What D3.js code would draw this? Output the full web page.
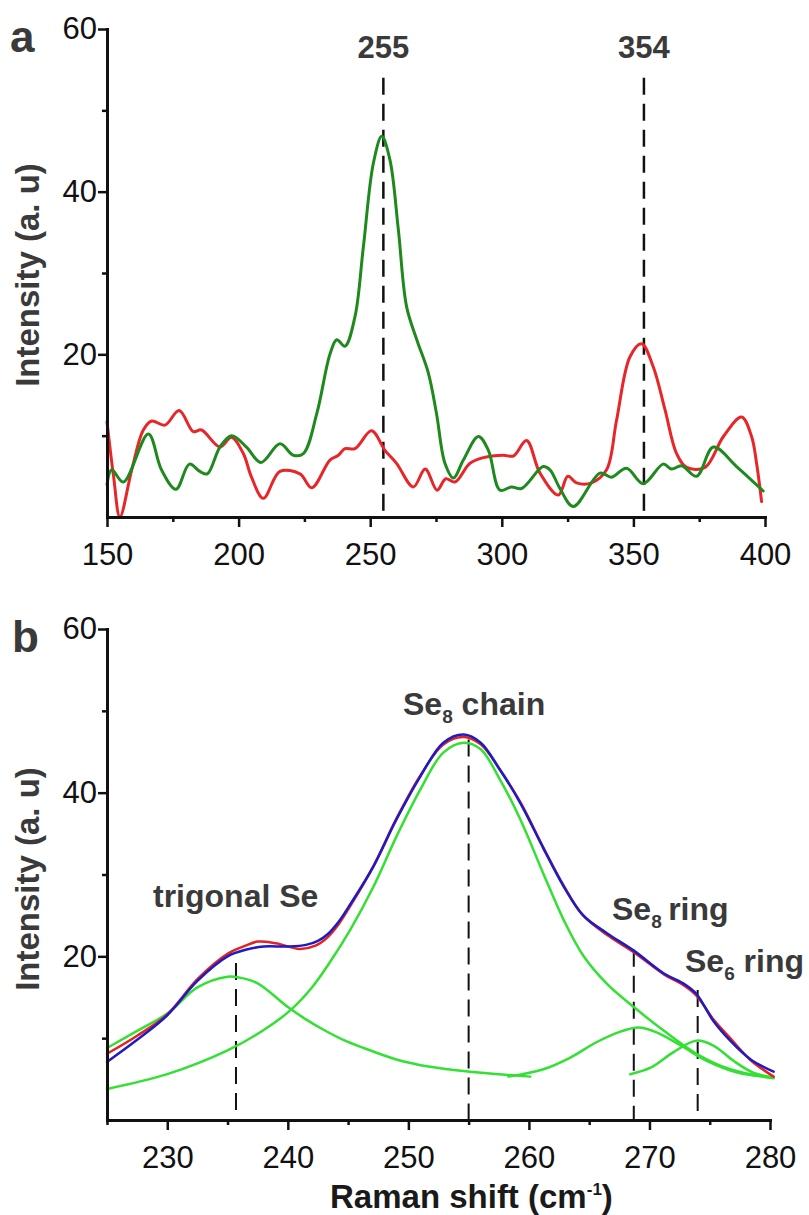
<!DOCTYPE html>
<html>
<head>
<meta charset="utf-8">
<script src="https://cdn.jsdelivr.net/npm/d3@7"></script>
<style>
    body { margin: 0; background: #fff; }
    svg { display: block; font-family: "Liberation Sans", Arial, sans-serif; }
    .tick text { font-size: 31px; fill: #111; }
    .domain { stroke: #111; stroke-width: 3; stroke-linecap: square; }
    .tick line { stroke: #111; stroke-width: 2.5; }
    .label { font-weight: bold; fill: #3a3a3a; }
</style>
</head>
<body>
<svg id="chart" width="809" height="1215"></svg>
<script>
// --- panel a: Raman spectra (two samples) ---
const aGreenShift = [150.0, 151.8, 156.2, 165.7, 170.7, 176.2, 181.3, 185.3, 188.1, 192.9, 197.3, 203.0, 208.5, 215.7, 220.8, 224.6,
    229.7, 234.7, 237.3, 240.4, 244.2, 247.4, 251.2, 254.4, 257.5, 260.7, 263.8, 267.7, 272.1, 275.2, 278.4, 281.6,
    285.4, 291.1, 294.9, 299.3, 303.7, 307.5, 315.7, 318.3, 322.1, 327.2, 337.3, 341.7, 347.4, 353.7, 361.3, 364.5,
    368.3, 374.0, 380.4, 389.2, 399.3];
const aGreenIntensity = [4.0, 5.8, 4.3, 10.2, 5.8, 3.4, 6.5, 5.6, 5.3, 8.6, 10.0, 8.6, 6.7, 9.0, 7.6, 7.8,
    12.7, 20.0, 21.8, 21.0, 24.6, 33.2, 43.5, 46.8, 43.9, 35.3, 25.9, 21.8, 17.7, 12.7, 6.6, 4.8,
    7.0, 9.9, 8.2, 3.3, 3.7, 3.5, 6.2, 5.8, 3.5, 1.3, 5.4, 4.9, 6.0, 4.1, 6.5, 5.9,
    6.3, 5.0, 8.6, 6.2, 3.2];

const aRedShift = [150.0, 152.5, 154.9, 159.4, 163.8, 167.0, 172.0, 177.4, 182.8, 185.9, 192.9, 197.3, 201.8, 204.9, 209.4, 215.7,
    223.3, 227.8, 234.7, 237.9, 240.4, 244.2, 250.5, 255.6, 260.0, 266.4, 270.9, 275.4, 278.7, 282.2, 287.9, 293.0,
    300.6, 304.4, 309.4, 314.5, 321.5, 325.1, 328.4, 334.1, 339.8, 343.6, 348.7, 353.1, 357.5, 362.0, 366.4, 370.2,
    377.2, 384.2, 391.1, 394.9, 396.8, 398.7];
const aRedIntensity = [11.7, 5.0, 0.0, 5.8, 10.7, 11.8, 11.3, 13.1, 10.5, 10.7, 8.6, 9.8, 7.8, 4.9, 2.3, 5.6,
    5.3, 3.6, 7.0, 7.6, 8.4, 8.4, 10.6, 8.2, 6.6, 3.7, 5.9, 3.3, 4.7, 4.3, 6.6, 7.3,
    7.6, 7.5, 9.4, 5.4, 2.7, 5.0, 4.2, 4.2, 5.8, 11.9, 19.7, 21.3, 18.5, 13.2, 7.8, 6.1,
    6.1, 9.9, 12.3, 9.9, 6.6, 1.9];

const aPeaks = [255, 354];
const aPeakTop = 54;

// --- panel b: peak fit of the Se band ---
const bRedShift = [225.0, 227.5, 230.0, 232.5, 235.0, 236.5, 237.5, 239.0, 241.0, 242.3, 243.2, 244.2, 245.2, 247.1, 249.0, 251.0, 252.9,
    254.6, 256.0, 257.6, 259.3, 261.2, 262.9, 264.5, 266.5, 268.7, 271.2, 272.8, 273.9, 275.3, 276.7, 278.4, 280.3];
const bRedIntensity = [8.1, 10.3, 12.9, 17.2, 20.3, 21.3, 21.8, 21.6, 20.9, 21.3, 22.2, 23.9, 26.2, 31.0, 36.8, 42.1, 45.9,
    46.8, 45.9, 42.8, 38.8, 33.3, 28.6, 25.0, 22.6, 20.5, 17.8, 16.5, 15.2, 12.3, 10.0, 7.3, 5.3];

const bFitShift = [225.0, 227.5, 230.0, 232.5, 235.0, 236.5, 238.0, 240.0, 241.5, 242.5, 243.3, 244.2, 245.2, 247.1, 249.0, 251.0, 252.9,
    254.6, 256.0, 257.6, 259.3, 261.2, 262.9, 264.5, 266.5, 268.7, 271.2, 272.8, 273.9, 275.3, 276.7, 278.4, 280.3];
const bFitIntensity = [7.1, 9.8, 12.8, 17.0, 20.0, 20.8, 21.2, 21.2, 21.4, 21.9, 22.7, 24.2, 26.4, 31.0, 36.7, 42.0, 46.1,
    47.1, 46.1, 42.8, 38.7, 33.2, 28.5, 25.0, 22.8, 20.7, 17.9, 16.7, 15.4, 12.1, 9.7, 7.4, 5.9];

const bTrigonalShift = [225.0, 227.5, 230.0, 232.5, 235.0, 236.0, 237.5, 240.0, 241.5, 243.0, 244.6, 246.3, 249.0, 251.8, 255.1, 258.4, 260.1];
const bTrigonalIntensity = [8.8, 10.9, 13.0, 16.2, 17.5, 17.4, 16.7, 13.8, 12.3, 11.0, 9.8, 8.8, 7.4, 6.5, 5.9, 5.5, 5.3];

const bChainShift = [225.0, 230.0, 235.0, 238.0, 240.2, 242.0, 243.5, 245.2, 247.1, 249.0, 251.0, 252.9, 254.6, 256.0, 257.6, 259.3,
    261.2, 262.9, 264.5, 266.5, 268.7, 271.2, 273.9, 276.7, 280.3];
const bChainIntensity = [3.8, 5.6, 8.5, 11.0, 13.4, 16.2, 19.3, 23.3, 28.5, 34.6, 40.4, 44.9, 46.1, 45.3, 41.6, 36.7,
    30.1, 24.4, 20.1, 16.6, 13.8, 10.9, 8.1, 6.2, 5.1];

const bSe8RingShift = [258.3, 261.2, 263.4, 265.6, 267.6, 269.1, 270.6, 272.6, 274.8, 277.3, 280.3];
const bSe8RingIntensity = [5.3, 6.2, 7.6, 9.5, 10.8, 11.3, 10.7, 9.1, 7.2, 5.8, 5.2];

const bSe6RingShift = [268.4, 270.1, 272.0, 273.9, 275.3, 277.0, 278.6, 280.3];
const bSe6RingIntensity = [5.6, 6.4, 8.3, 9.7, 9.1, 7.2, 5.8, 5.2];

const bPeaks = [235.7, 255.0, 268.7, 274.0];
const bPeakTops = [19.2, 46.5, 20.8, 15.9];

// --- SETUP ---
const svg = d3.select('#chart');
svg.append('rect').attr('width', 809).attr('height', 1215).attr('fill', '#fff');

function drawAxes(g, x, y, xMajor, xMinor) {
    const y0 = y(0), x0 = x.domain()[0];
    g.append('g').attr('transform', `translate(0,${y0})`)
        .call(d3.axisBottom(x).tickValues(xMinor).tickSize(5).tickFormat(''))
        .call(s => s.select('.domain').remove());
    g.append('g').attr('transform', `translate(0,${y0})`)
        .call(d3.axisBottom(x).tickValues(xMajor).tickSize(10).tickPadding(16).tickSizeOuter(0).tickFormat(d3.format('d')));
    g.append('g').attr('transform', `translate(${x(x0)},0)`)
        .call(d3.axisLeft(y).tickValues([10, 30, 50]).tickSize(5).tickFormat(''))
        .call(s => s.select('.domain').remove());
    g.append('g').attr('transform', `translate(${x(x0)},0)`)
        .call(d3.axisLeft(y).tickValues([20, 40, 60]).tickSize(9).tickPadding(1).tickSizeOuter(0).tickFormat(d3.format('d')));
}

function series(g, x, y, xs, ys, colour, width) {
    const line = d3.line().x(d => x(d[0])).y(d => y(d[1])).curve(d3.curveCatmullRom.alpha(0.5));
    g.append('path').datum(d3.zip(xs, ys)).attr('d', line)
        .attr('fill', 'none').attr('stroke', colour).attr('stroke-width', width)
        .attr('stroke-linejoin', 'round').attr('stroke-linecap', 'round');
}

function dashed(g, x, y, v, top, width) {
    g.append('line').attr('x1', x(v)).attr('x2', x(v)).attr('y1', y(top)).attr('y2', y(0))
        .attr('stroke', '#111').attr('stroke-width', width).attr('stroke-dasharray', '17,9');
}

function yTitle(cy) {
    svg.append('text').attr('class', 'label').attr('transform', `translate(39,${cy}) rotate(-90)`)
        .attr('text-anchor', 'middle').style('font-size', '33px').text('Intensity (a. u)');
}

// --- PANEL A ---
const ax = d3.scaleLinear([150, 400], [107, 765]);
const ay = d3.scaleLinear([0, 60], [517, 29]);
const ga = svg.append('g');
aPeaks.forEach(p => dashed(ga, ax, ay, p, aPeakTop, 2.5));
series(ga, ax, ay, aRedShift, aRedIntensity, '#e8262a', 3);
series(ga, ax, ay, aGreenShift, aGreenIntensity, '#1e8a1e', 3);
drawAxes(ga, ax, ay, [150, 200, 250, 300, 350, 400], [175, 225, 275, 325, 375]);
aPeaks.forEach(p => ga.append('text').attr('class', 'label').attr('x', ax(p)).attr('y', 58)
    .attr('text-anchor', 'middle').style('font-size', '31px').text(p));
svg.append('text').attr('class', 'label').attr('x', 10).attr('y', 52).style('font-size', '44px').text('a');
yTitle(275);

// --- PANEL B ---
const bx = d3.scaleLinear([225, 280], [107, 770]);
const by = d3.scaleLinear([0, 60], [1120, 629]);
const gb = svg.append('g');
bPeaks.forEach((p, i) => dashed(gb, bx, by, p, bPeakTops[i], 2));
const lime = '#33e033';
series(gb, bx, by, bTrigonalShift, bTrigonalIntensity, lime, 2.5);
series(gb, bx, by, bChainShift, bChainIntensity, lime, 2.5);
series(gb, bx, by, bSe8RingShift, bSe8RingIntensity, lime, 2.5);
series(gb, bx, by, bSe6RingShift, bSe6RingIntensity, lime, 2.5);
series(gb, bx, by, bRedShift, bRedIntensity, '#e42222', 2.5);
series(gb, bx, by, bFitShift, bFitIntensity, '#1c1cc4', 2.5);
drawAxes(gb, bx, by, [230, 240, 250, 260, 270, 280], [225, 235, 245, 255, 265, 275]);
svg.append('text').attr('class', 'label').attr('x', 12).attr('y', 652).style('font-size', '44px').text('b');
yTitle(879);

// annotations with subscripts
function annot(x, y, parts) {
    const t = svg.append('text').attr('class', 'label').attr('x', x).attr('y', y).style('font-size', '32px');
    parts.forEach(p => {
        if (p.sub) t.append('tspan').attr('dy', 8).style('font-size', '19px').text(p.sub);
        else t.append('tspan').attr('dy', p.after ? -8 : 0).text(p.t);
    });
}
annot(153, 907, [{ t: 'trigonal Se' }]);
annot(403, 715, [{ t: 'Se' }, { sub: '8' }, { t: ' chain', after: true }]);
annot(612, 920, [{ t: 'Se' }, { sub: '8' }, { t: '\u2009ring', after: true }]);
annot(685, 972, [{ t: 'Se' }, { sub: '6' }, { t: ' ring', after: true }]);

const xt = svg.append('text').attr('class', 'label').attr('x', 330).attr('y', 1208)
    .style('font-size', '33px').style('fill', '#1a1a1a');
xt.append('tspan').text('Raman shift (cm');
xt.append('tspan').attr('dy', -13).style('font-size', '17px').text('-1');
xt.append('tspan').attr('dy', 13).text(')');
</script>
</body>
</html>
